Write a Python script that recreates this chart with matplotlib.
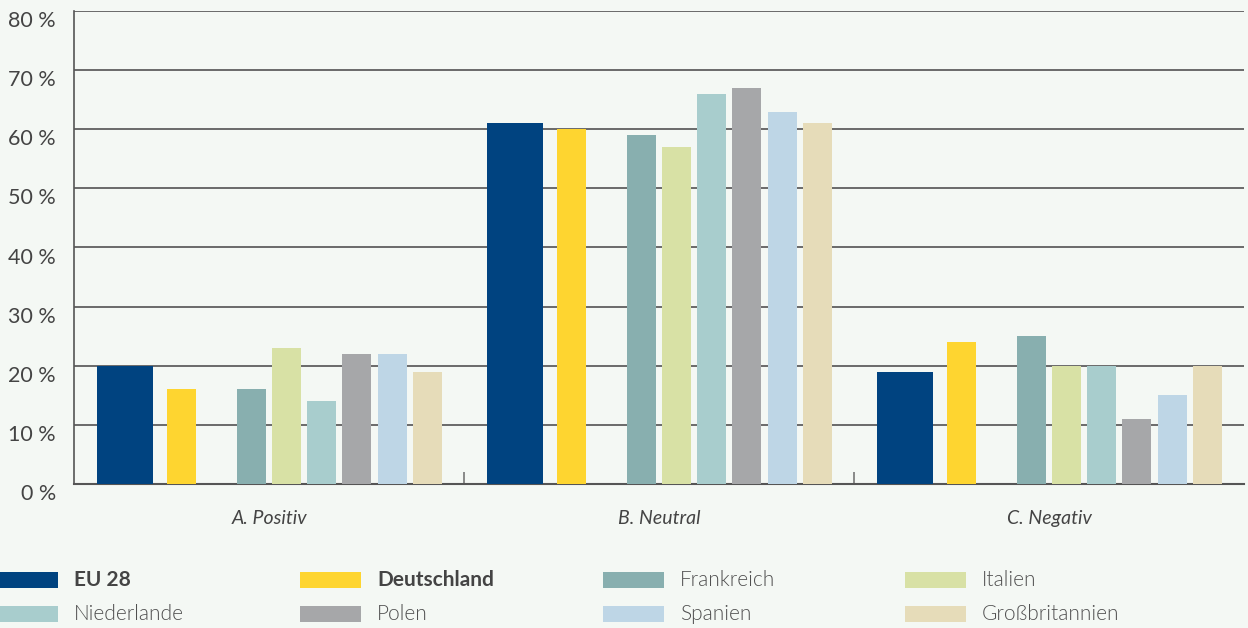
import numpy as np
import matplotlib.pyplot as plt
import matplotlib.transforms as mtransforms
from matplotlib.patches import Rectangle

# Survey answers per category (percent)
categories = ["A. Positiv", "B. Neutral", "C. Negativ"]
countries = ["EU 28", "Deutschland", "Frankreich", "Italien",
             "Niederlande", "Polen", "Spanien", "Großbritannien"]
values = {
    "EU 28":          [20, 61, 19],
    "Deutschland":    [16, 60, 24],
    "Frankreich":     [16, 59, 25],
    "Italien":        [23, 57, 20],
    "Niederlande":    [14, 66, 20],
    "Polen":          [22, 67, 11],
    "Spanien":        [22, 63, 15],
    "Großbritannien": [19, 61, 20],
}
colors = {
    "EU 28": "#004380",
    "Deutschland": "#FED530",
    "Frankreich": "#88AFAF",
    "Italien": "#D8E1A5",
    "Niederlande": "#A8CDCD",
    "Polen": "#A6A7A9",
    "Spanien": "#BED6E6",
    "Großbritannien": "#E6DCB9",
}
yticks = [0, 10, 20, 30, 40, 50, 60, 70, 80]
bold_series = ["EU 28", "Deutschland"]

bg = "#F4F8F4"
text_col = "#444444"

# bar offsets from group center and widths (group width = 1)
offsets = [-0.369, -0.224, -0.045, 0.045, 0.135, 0.225, 0.317, 0.407]
widths = [0.144, 0.075, 0.075, 0.075, 0.075, 0.075, 0.075, 0.075]

plt.rcParams["font.family"] = ["Lato", "DejaVu Sans"]

fig = plt.figure(figsize=(12.48, 6.28), dpi=100, facecolor=bg)
W, H = 1248, 628
ax = fig.add_axes([74 / W, (H - 484) / H, (1244 - 74) / W, (484 - 11) / H])
ax.set_facecolor(bg)

x = np.arange(len(categories))
for i, name in enumerate(countries):
    ax.bar(x + offsets[i], values[name], width=widths[i],
           color=colors[name], zorder=3, linewidth=0)

ax.set_xlim(-0.5, len(categories) - 0.5)
ax.set_ylim(0, 80)

# grid and spines
ax.set_yticks(yticks)
ax.yaxis.grid(True, color="#5f5f5f", linewidth=1.3, zorder=1)
ax.set_axisbelow(True)
for side in ["top", "right"]:
    ax.spines[side].set_visible(False)
ax.spines["left"].set_color("#555555")
ax.spines["left"].set_linewidth(1.2)
ax.spines["bottom"].set_color("#555555")
ax.spines["bottom"].set_linewidth(1.5)
ax.spines["bottom"].set_zorder(2)

ax.set_yticklabels([f"{v} %" for v in yticks], fontsize=15.5,
                   color=text_col)
ax.tick_params(axis="y", length=0, pad=13)
shift = mtransforms.ScaledTranslation(0, -8 / 100, fig.dpi_scale_trans)
for lbl in ax.get_yticklabels():
    lbl.set_transform(lbl.get_transform() + shift)

# category labels and group separator ticks
ax.set_xticks(x)
ax.set_xticklabels(categories, fontsize=14, style="italic", color=text_col)
ax.tick_params(axis="x", which="major", length=0, pad=19)
ax.set_xticks(x[:-1] + 0.5, minor=True)
ax.tick_params(axis="x", which="minor", direction="in", length=9,
               width=1.2, color="#777777")

# legend, 4 columns x 2 rows
col_x = [-3, 300, 603, 905]
row_y = [580, 614]
for i, name in enumerate(countries):
    r, c = divmod(i, 4)
    px, py = col_x[c], row_y[r]
    fig.patches.append(Rectangle((px / W, (H - py - 8) / H), 61 / W, 16 / H,
                                 transform=fig.transFigure,
                                 facecolor=colors[name], edgecolor="none"))
    bold = name in bold_series
    fig.text((px + 77) / W, (H - py) / H, name, fontsize=15,
             fontweight="bold" if bold else 300,
             color=text_col if bold else "#505050", va="center", ha="left")

fig.savefig("out.png", dpi=100, facecolor=bg)
